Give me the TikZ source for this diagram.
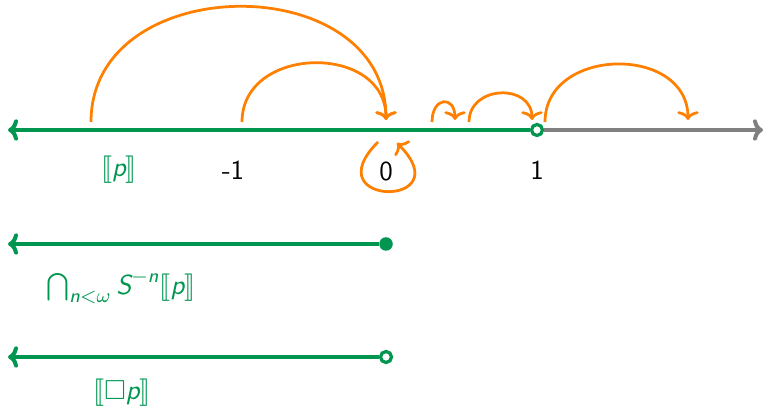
\documentclass[tikz,border=0pt]{standalone}
\usepackage{amsmath,amssymb}
\usepackage{stmaryrd}
\usetikzlibrary{arrows.meta}

\definecolor{setgreen}{RGB}{0,150,80}
\definecolor{jumporange}{RGB}{255,128,0}
\newcommand{\sv}[1]{\textsf{\itshape #1}}

\begin{document}
\begin{tikzpicture}[x=0.4pt, y=0.4pt, font=\fontsize{11}{13}\selectfont\sffamily]
    \tikzstyle{axis} = [line width=1.6pt, draw=setgreen, >={Computer Modern Rightarrow[length=4pt,width=8.5pt]}, <-]
    \tikzstyle{rest} = [line width=1.6pt, draw=gray, >={Computer Modern Rightarrow[length=4pt,width=8.5pt]}, ->]
    \tikzstyle{jump} = [line width=1.1pt, draw=jumporange, >={Computer Modern Rightarrow[length=3.5pt,width=8.5pt]}, ->]
    \tikzstyle{hollow} = [circle, draw=setgreen, fill=white, line width=1.3pt, inner sep=0pt, minimum size=4.4pt]
    \tikzstyle{solid} = [circle, fill=setgreen, inner sep=0pt, minimum size=5.4pt]
    \tikzstyle{setlabel} = [text=setgreen]

    \useasboundingbox (0,0) rectangle (765,411);

    % main line
    \coordinate (mainL) at (8,281);
    \coordinate (mainR) at (763,281);
    \node [hollow] (one) at (537,281) {};
    \draw [axis] (mainL) -- (one);
    \draw [rest] (one) -- (mainR);

    \node [setlabel] (plab) at (119,241) {$\llbracket\sv{p}\rrbracket$};
    \node (mone) at (233,241) {-1};
    \node (zero) at (386,239) {0};
    \node (onelab) at (537,241) {1};

    % jumps
    \coordinate (pA) at (91,289);
    \coordinate (mA) at (242,289);
    \coordinate (zT) at (386,291);
    \coordinate (aA) at (432,289);
    \coordinate (aB) at (455,291);
    \coordinate (bA) at (469,289);
    \coordinate (bB) at (532,291);
    \coordinate (cA) at (545,289);
    \coordinate (cB) at (688,291);
    \coordinate (zA) at (378,269);
    \coordinate (zB) at (397,268);

    \draw [jump] (pA) to[out=90, in=90, looseness=1.32] (zT);
    \draw [jump] (mA) to[out=90, in=90, looseness=1.37] (zT);
    \draw [jump] (aA) to[out=90, in=90, looseness=2.8] (aB);
    \draw [jump] (bA) to[out=90, in=90, looseness=1.5] (bB);
    \draw [jump] (cA) to[out=90, in=90, looseness=1.35] (cB);
    \draw [jump] (zA) to[out=-135, in=-45, looseness=12.4] (zB);

    % second line
    \coordinate (midL) at (8,167);
    \node [solid] (dotA) at (386,167) {};
    \draw [axis] (midL) -- (dotA);
    \node [setlabel] (caplab) at (121,124) {$\bigcap_{\sv{n}<\omega} \sv{S}^{-\sv{n}}\llbracket\sv{p}\rrbracket$};

    % third line
    \coordinate (lowL) at (8,54);
    \node [hollow] (dotB) at (386,54) {};
    \draw [axis] (lowL) -- (dotB);
    \node [setlabel] (boxlab) at (122,18) {$\llbracket\square\sv{p}\rrbracket$};
\end{tikzpicture}
\end{document}
